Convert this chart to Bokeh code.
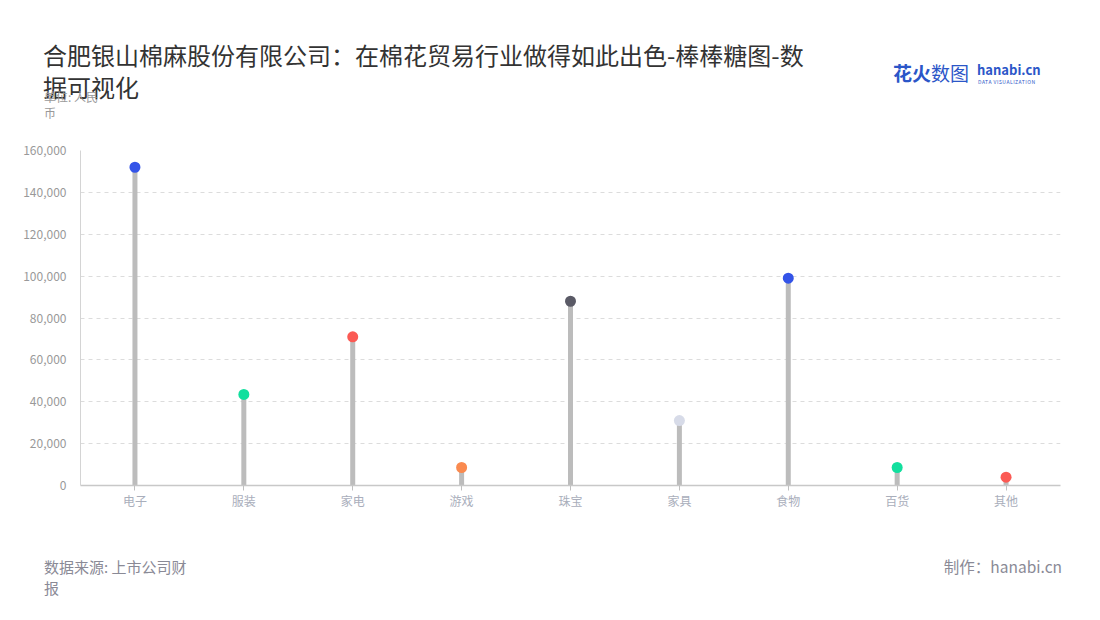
from bokeh.plotting import figure
from bokeh.models import NumeralTickFormatter, ColumnDataSource, Div
from bokeh.layouts import column
from bokeh.embed import file_html
from bokeh.resources import INLINE

categories = ["电子", "服装", "家电", "游戏", "珠宝", "家具", "食物", "百货", "其他"]
values = [152000, 43500, 71000, 8600, 88000, 31000, 99000, 8600, 4000]
colors = ["#3454e8", "#12df9e", "#fb5a54", "#fa8a4f", "#5a5a66", "#d7dbe8", "#3454e8", "#12df9e", "#fb5a54"]
y_ticks = [0, 20000, 40000, 60000, 80000, 100000, 120000, 140000, 160000]

title_lines = ["合肥银山棉麻股份有限公司：在棉花贸易行业做得如此出色-棒棒糖图-数", "据可视化"]
unit_lines = ["单位: 人民", "币"]
source_lines = ["数据来源: 上市公司财", "报"]
credit_text = "制作：hanabi.cn"

W = 1084
HEAD_H = 142
FONT = "Noto Sans CJK SC"

# ---------- header ----------
head_html = f"""
<div style="position:relative;width:{W}px;height:{HEAD_H}px;font-family:'{FONT}';">
  <div style="position:absolute;left:43px;top:39px;font-size:24px;line-height:32px;color:#333333;white-space:nowrap;">{'<br>'.join(title_lines)}</div>
  <div style="position:absolute;left:44px;top:89px;font-size:12px;line-height:16px;color:#999999;white-space:nowrap;">{'<br>'.join(unit_lines)}</div>
  <div style="position:absolute;left:893px;top:60px;font-size:19px;line-height:26px;color:#2b56c8;white-space:nowrap;"><b>花火</b>数图</div>
  <div style="position:absolute;left:977px;top:61px;font-size:13px;line-height:17px;font-weight:bold;color:#2b56c8;white-space:nowrap;">hanabi.cn</div>
  <div style="position:absolute;left:978px;top:78px;font-size:5px;line-height:7px;color:#2b56c8;white-space:nowrap;letter-spacing:0.5px;">DATA VISUALIZATION</div>
</div>
"""
head = Div(text=head_html, width=W, height=HEAD_H, margin=0)

# ---------- chart ----------
p = figure(x_range=categories, y_range=(0, 160000), width=W, height=398,
           output_backend="svg", toolbar_location=None,
           min_border_left=80, min_border_right=W - 1060, min_border_top=8, min_border_bottom=55,
           margin=0)
p.outline_line_color = None

src = ColumnDataSource(dict(cat=categories, val=values, col=colors, zero=[0] * len(values)))
p.segment(x0="cat", y0="zero", x1="cat", y1="val", source=src, line_color="#bcbcbc", line_width=5)
p.scatter(x="cat", y="val", source=src, size=11, fill_color="col", line_color=None)

p.xgrid.grid_line_color = None
p.ygrid.grid_line_color = "#dcdcdc"
p.ygrid.grid_line_dash = "4 4"
p.ygrid.grid_line_width = 1

p.yaxis.ticker = y_ticks
p.yaxis.formatter = NumeralTickFormatter(format="0,0")
p.yaxis.axis_line_color = "#d4d4d4"
p.yaxis.major_tick_line_color = None
p.yaxis.minor_tick_line_color = None
p.yaxis.major_label_text_color = "#999999"
p.yaxis.major_label_text_font = FONT
p.yaxis.major_label_text_font_size = "12px"
p.yaxis.major_label_standoff = 8

p.xaxis.axis_line_color = "#c8c8c8"
p.xaxis.axis_line_width = 1.5
p.xaxis.major_tick_line_color = "#c0c0c0"
p.xaxis.major_tick_out = 5
p.xaxis.major_tick_in = 0
p.xaxis.major_label_text_color = "#a9aebb"
p.xaxis.major_label_text_font = FONT
p.xaxis.major_label_text_font_size = "12px"
p.xaxis.major_label_standoff = 1

# ---------- footer ----------
FOOT_H = 64
foot_html = f"""
<div style="position:relative;width:{W}px;height:{FOOT_H}px;font-family:'{FONT}';">
  <div style="position:absolute;left:44px;top:16px;font-size:15px;line-height:21px;color:#8a8a96;white-space:nowrap;">{'<br>'.join(source_lines)}</div>
  <div style="position:absolute;right:22px;top:16px;font-size:15.5px;line-height:21px;color:#8a8a96;white-space:nowrap;">{credit_text}</div>
</div>
"""
foot = Div(text=foot_html, width=W, height=FOOT_H, margin=0)

layout = column(head, p, foot, spacing=0)
open("out.html", "w").write(file_html(layout, INLINE))
